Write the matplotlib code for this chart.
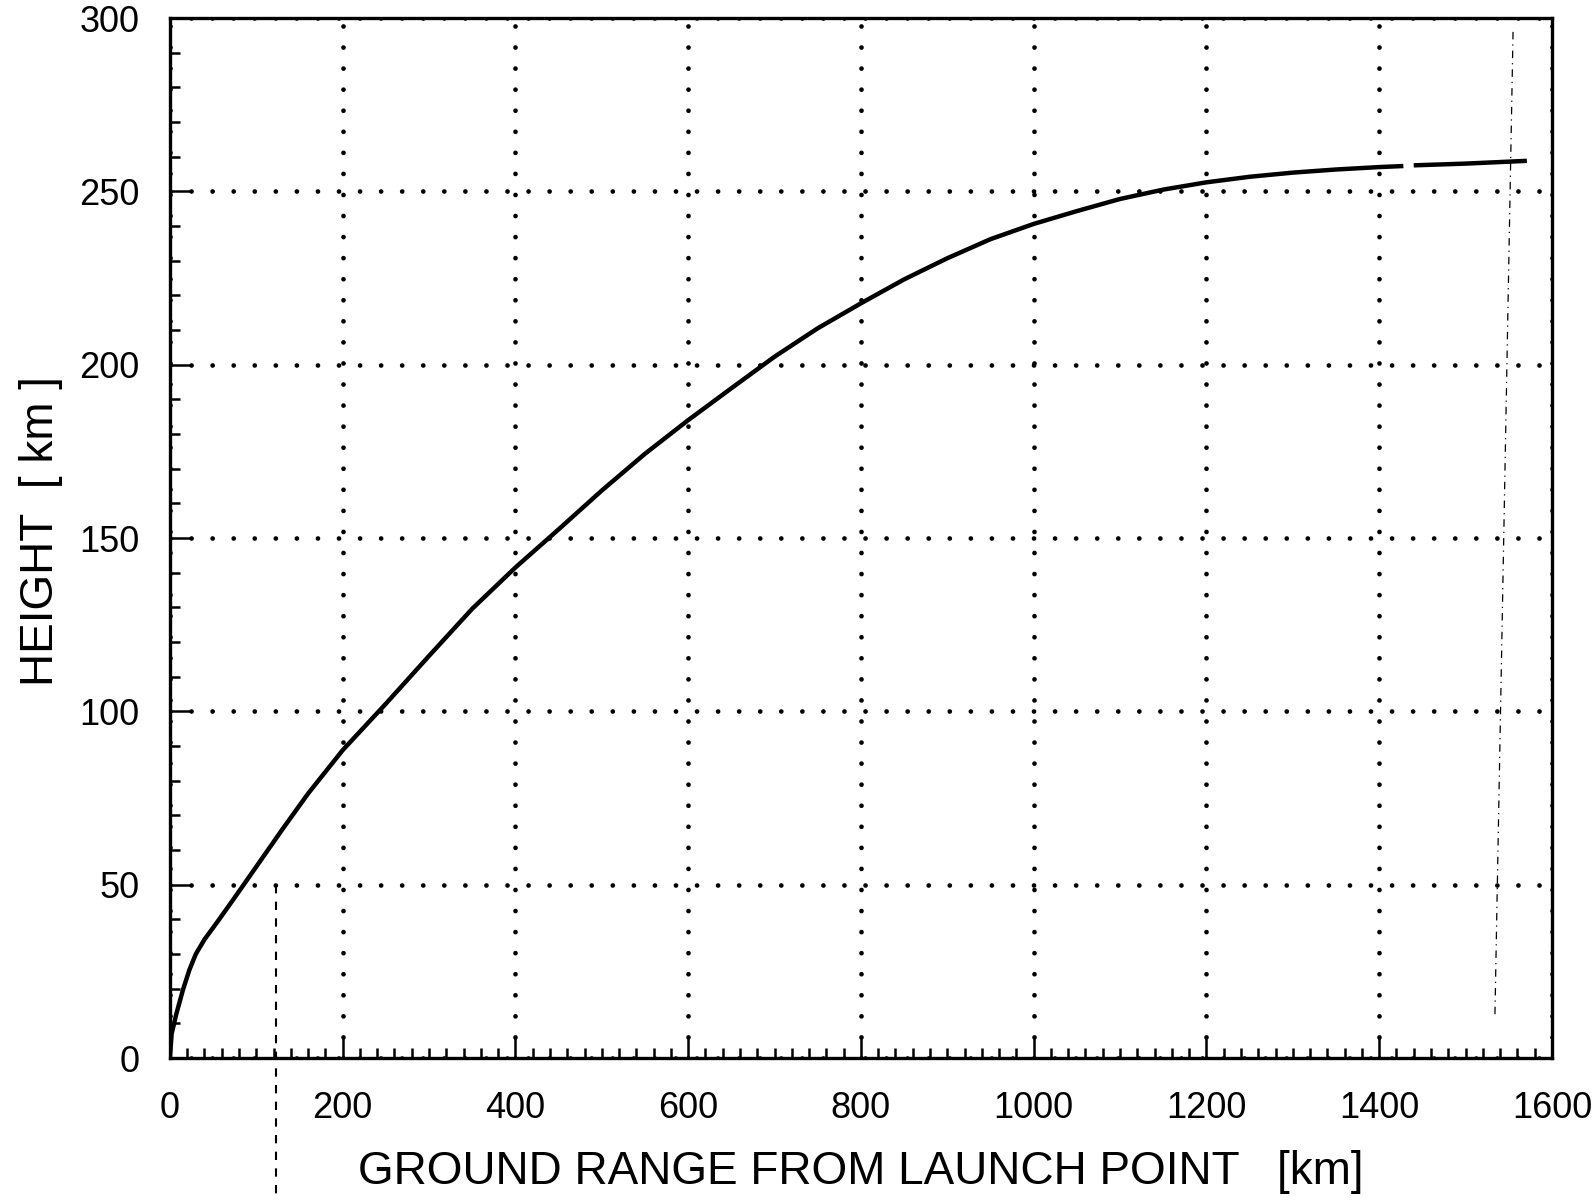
import numpy as np
import matplotlib
matplotlib.use("Agg")
import matplotlib.pyplot as plt
from matplotlib.ticker import MultipleLocator

# trayectoria (alcance y altura en km), el nan es el corte de la linea
rango = [0, 2, 7.5, 15, 22.5, 30, 40, 55, 75, 100, 130, 160, 200, 250, 300, 350, 400,
         450, 500, 550, 600, 650, 700, 750, 800, 850, 900, 950, 1000, 1050, 1100, 1150,
         1200, 1250, 1300, 1350, 1400, 1428, np.nan, 1440, 1500, 1571]
altura = [0, 7, 12.8, 19.6, 25.4, 30.0, 34.2, 39.3, 46.3, 55.2, 65.9, 76.3, 88.8,
          102.2, 116.0, 129.6, 141.5, 152.5, 163.7, 174.3, 184.0, 193.2, 202.3, 210.5,
          217.7, 224.6, 230.7, 236.2, 240.6, 244.3, 247.8, 250.5, 252.6, 254.2, 255.4,
          256.3, 257.0, 257.3, np.nan, 257.5, 258.0, 258.8]

# marcas discontinuas del escaneo
marca_izq_x = [123, 123]
marca_izq_y = [50, -45]
marca_der_x = [1555, 1534]
marca_der_y = [296, 12]

xticks = [0, 200, 400, 600, 800, 1000, 1200, 1400, 1600]
yticks = [0, 50, 100, 150, 200, 250, 300]

plt.rcParams['font.family'] = ['Liberation Sans', 'DejaVu Sans']

fig = plt.figure(figsize=(15.94, 12), dpi=100)
ax = fig.add_axes([0.1066, 0.1183, 0.867, 0.8667])

ax.plot(rango, altura, color='black', linewidth=3.2, solid_capstyle='butt',
        solid_joinstyle='round', zorder=5)
ax.plot(marca_izq_x, marca_izq_y, color='black', linewidth=1.5, linestyle=(0, (4, 4)),
        clip_on=False, zorder=3)
ax.plot(marca_der_x, marca_der_y, color='black', linewidth=0.9, linestyle=(0, (6, 4, 1, 4)),
        zorder=3)

ax.set_xlim(0, 1600)
ax.set_ylim(0, 300)
ax.set_xticks(xticks)
ax.set_yticks(yticks)
ax.xaxis.set_minor_locator(MultipleLocator(20))
ax.yaxis.set_minor_locator(MultipleLocator(10))

ax.tick_params(which='both', direction='in', top=False, right=False, width=1.8,
               color='black', labelsize=26)
ax.tick_params(which='major', length=15)
ax.tick_params(which='minor', length=7.5)
ax.tick_params(axis='x', pad=24)
ax.tick_params(axis='y', pad=22)

# rejilla de puntos gruesos
ax.grid(True, which='major', color='black', linewidth=3.4,
        linestyle=(0, (0.01, 4.45)), dash_capstyle='round')

for s in ax.spines.values():
    s.set_linewidth(2.4)

ax.set_xlabel('GROUND RANGE FROM LAUNCH POINT   [km]', fontsize=33,
              verticalalignment='center')
ax.set_ylabel('HEIGHT  [ km ]', fontsize=33, verticalalignment='center')
ax.xaxis.set_label_coords(0.5, -0.1096)
ax.yaxis.set_label_coords(-0.0933, 0.507)

fig.savefig('out.png', dpi=100)
